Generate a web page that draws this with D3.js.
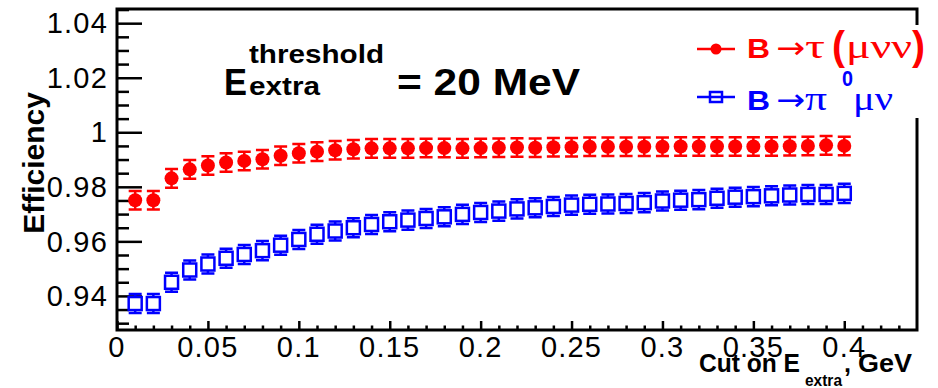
<!DOCTYPE html>
<html>
<head>
<meta charset="utf-8">
<script src="https://cdn.jsdelivr.net/npm/d3@7"></script>
<style>
  html, body { margin: 0; padding: 0; background: #fff; }
  svg { display: block; font-family: "Liberation Sans", Arial, sans-serif; }
</style>
</head>
<body>
<div id="vis"></div>
<script>
// cut on E_extra (GeV)
const cuts = [0.01, 0.02, 0.03, 0.04, 0.05, 0.06, 0.07, 0.08, 0.09, 0.10,
  0.11, 0.12, 0.13, 0.14, 0.15, 0.16, 0.17, 0.18, 0.19, 0.20,
  0.21, 0.22, 0.23, 0.24, 0.25, 0.26, 0.27, 0.28, 0.29, 0.30,
  0.31, 0.32, 0.33, 0.34, 0.35, 0.36, 0.37, 0.38, 0.39, 0.40];

// B -> tau(mu nu nu)
const effTau = [0.9751, 0.9751, 0.9831, 0.9864, 0.9878, 0.9889, 0.9895, 0.9901, 0.9914, 0.9923,
  0.9929, 0.9934, 0.9938, 0.9941, 0.9941, 0.9941, 0.9942, 0.9942, 0.9941, 0.9942,
  0.9943, 0.9944, 0.9943, 0.9945, 0.9945, 0.9947, 0.9947, 0.9947, 0.9947, 0.9947,
  0.9948, 0.9948, 0.9948, 0.9948, 0.9948, 0.9948, 0.9949, 0.9950, 0.9952, 0.9950];
const errTau = [0.0034, 0.0034, 0.0034, 0.0034, 0.0034, 0.0034, 0.0034, 0.0034, 0.0034, 0.0034,
  0.0034, 0.0034, 0.0034, 0.0034, 0.0034, 0.0034, 0.0034, 0.0034, 0.0034, 0.0034,
  0.0034, 0.0034, 0.0034, 0.0034, 0.0034, 0.0034, 0.0034, 0.0034, 0.0034, 0.0034,
  0.0034, 0.0034, 0.0034, 0.0034, 0.0034, 0.0034, 0.0034, 0.0034, 0.0034, 0.0034];

// B -> pi0 mu nu
const effPi = [0.9372, 0.9372, 0.9450, 0.9495, 0.9517, 0.9538, 0.9552, 0.9566, 0.9586, 0.9607,
  0.9626, 0.9638, 0.9650, 0.9662, 0.9672, 0.9678, 0.9684, 0.9690, 0.9699, 0.9706,
  0.9711, 0.9719, 0.9723, 0.9728, 0.9733, 0.9736, 0.9737, 0.9739, 0.9742, 0.9748,
  0.9751, 0.9753, 0.9758, 0.9762, 0.9764, 0.9767, 0.9770, 0.9772, 0.9772, 0.9776];
const errPi = [0.0035, 0.0035, 0.0035, 0.0035, 0.0035, 0.0035, 0.0035, 0.0035, 0.0035, 0.0035,
  0.0035, 0.0035, 0.0035, 0.0035, 0.0035, 0.0035, 0.0035, 0.0035, 0.0035, 0.0035,
  0.0035, 0.0035, 0.0035, 0.0035, 0.0035, 0.0035, 0.0035, 0.0035, 0.0035, 0.0035,
  0.0035, 0.0035, 0.0035, 0.0035, 0.0035, 0.0035, 0.0035, 0.0035, 0.0035, 0.0035];

const xTicks = [0, 0.05, 0.1, 0.15, 0.2, 0.25, 0.3, 0.35, 0.4];
const yTicks = [0.94, 0.96, 0.98, 1.0, 1.02, 1.04];

const width = 938;
const height = 388;
const frame = { left: 117, right: 917, top: 9, bottom: 330 };
const red = '#ff0000';
const blue = '#0000ff';
const serif = '"Liberation Serif", "DejaVu Serif", serif';
const arrowFont = '"DejaVu Sans", sans-serif';

const svg = d3.select('#vis')
  .append('svg')
  .attr('width', width)
  .attr('height', height)
  .attr('viewBox', [0, 0, width, height]);

const x = d3.scaleLinear()
  .domain([0, 0.44])
  .range([frame.left, frame.right]);

const y = d3.scaleLinear()
  .domain([0.9275, 1.0452])
  .range([frame.bottom, frame.top]);

// one piece of text fitted to a given width (ROOT fonts run wide)
function piece(parent, str, px, py, size, w, opts = {}) {
  const t = parent.append('text')
    .attr('x', px)
    .attr('y', py)
    .attr('font-size', size)
    .attr('font-weight', opts.bold ? 'bold' : null)
    .attr('font-family', opts.family || null)
    .attr('fill', opts.fill || '#000')
    .text(str);
  if (w) t.attr('textLength', w).attr('lengthAdjust', 'spacingAndGlyphs');
  return t;
}

// y axis, ticks pointing into the frame
const yMinor = d3.range(0.93, 1.0452, 0.005).filter((v) => !yTicks.some((t) => Math.abs(t - v) < 1e-6));
svg.append('g')
  .attr('transform', `translate(${frame.left},0)`)
  .call(d3.axisRight(y).tickValues(yMinor).tickSize(12).tickFormat(''))
  .call((g) => g.select('.domain').remove())
  .call((g) => g.selectAll('.tick line').attr('stroke-width', 2.5));

svg.append('g')
  .attr('transform', `translate(${frame.left},0)`)
  .call(d3.axisRight(y).tickValues(yTicks).tickSize(25).tickFormat(''))
  .call((g) => g.select('.domain').remove())
  .call((g) => g.selectAll('.tick line').attr('stroke-width', 2.5));

svg.append('g')
  .selectAll('text')
  .data(yTicks)
  .join('text')
  .attr('x', frame.left - 9)
  .attr('y', (d) => y(d))
  .attr('dy', '0.35em')
  .attr('text-anchor', 'end')
  .attr('font-size', 29)
  .attr('letter-spacing', 1.2)
  .text((d) => +d.toFixed(2));

// x axis
const xMinor = d3.range(0.01, 0.44, 0.01).filter((v) => !xTicks.some((t) => Math.abs(t - v) < 1e-6));
svg.append('g')
  .attr('transform', `translate(0,${frame.bottom})`)
  .call(d3.axisTop(x).tickValues(xMinor).tickSize(4.5).tickFormat(''))
  .call((g) => g.select('.domain').remove())
  .call((g) => g.selectAll('.tick line').attr('stroke-width', 2.5));

svg.append('g')
  .attr('transform', `translate(0,${frame.bottom})`)
  .call(d3.axisTop(x).tickValues(xTicks).tickSize(9).tickFormat(''))
  .call((g) => g.select('.domain').remove())
  .call((g) => g.selectAll('.tick line').attr('stroke-width', 2.5));

svg.append('g')
  .selectAll('text')
  .data(xTicks)
  .join('text')
  .attr('x', (d) => x(d))
  .attr('y', 357)
  .attr('text-anchor', 'middle')
  .attr('font-size', 29)
  .attr('letter-spacing', 1.2)
  .text((d) => +d.toFixed(2));

// frame
svg.append('rect')
  .attr('x', frame.left)
  .attr('y', frame.top)
  .attr('width', frame.right - frame.left)
  .attr('height', frame.bottom - frame.top)
  .attr('fill', 'none')
  .attr('stroke', '#000')
  .attr('stroke-width', 3);

// error bars + markers
const capW = 13;

const tauG = svg.append('g').attr('stroke', red).attr('fill', red);
tauG.selectAll('path')
  .data(cuts)
  .join('path')
  .attr('stroke-width', 2.5)
  .attr('fill', 'none')
  .attr('d', (d, i) => {
    const px = x(d);
    const y0 = y(effTau[i] - errTau[i]);
    const y1 = y(effTau[i] + errTau[i]);
    return `M${px},${y0}V${y1}M${px - capW / 2},${y0}h${capW}M${px - capW / 2},${y1}h${capW}`;
  });
tauG.selectAll('circle')
  .data(cuts)
  .join('circle')
  .attr('stroke', 'none')
  .attr('cx', (d) => x(d))
  .attr('cy', (d, i) => y(effTau[i]))
  .attr('r', 7);

const sq = 13;
const piG = svg.append('g').attr('stroke', blue).attr('fill', 'none').attr('stroke-width', 2.5);
piG.selectAll('path')
  .data(cuts)
  .join('path')
  .attr('d', (d, i) => {
    const px = x(d);
    const py = y(effPi[i]);
    const y0 = y(effPi[i] - errPi[i]);
    const y1 = y(effPi[i] + errPi[i]);
    return `M${px},${y0}V${py + sq / 2}M${px},${py - sq / 2}V${y1}` +
      `M${px - capW / 2},${y0}h${capW}M${px - capW / 2},${y1}h${capW}`;
  });
piG.selectAll('rect')
  .data(cuts)
  .join('rect')
  .attr('x', (d) => x(d) - sq / 2)
  .attr('y', (d, i) => y(effPi[i]) - sq / 2)
  .attr('width', sq)
  .attr('height', sq);

// legend (white box covers the right frame edge)
svg.append('rect')
  .attr('x', 690)
  .attr('y', 25)
  .attr('width', 248)
  .attr('height', 93)
  .attr('fill', '#fff');

const leg = svg.append('g');
leg.append('line').attr('x1', 697).attr('x2', 735).attr('y1', 49).attr('y2', 49)
  .attr('stroke', red).attr('stroke-width', 2.5);
leg.append('circle').attr('cx', 716).attr('cy', 49).attr('r', 5.5).attr('fill', red);
leg.append('line').attr('x1', 697).attr('x2', 735).attr('y1', 97).attr('y2', 97)
  .attr('stroke', blue).attr('stroke-width', 2.5);
leg.append('rect').attr('x', 710).attr('y', 92).attr('width', 12).attr('height', 10)
  .attr('fill', 'none').attr('stroke', blue).attr('stroke-width', 2.5);

piece(leg, 'B', 747, 58, 27, 23, { bold: true, fill: red });
piece(leg, '\u2192', 776, 58, 30, 29, { family: arrowFont, fill: red });
piece(leg, '\u03C4', 805, 58, 34, 20, { family: serif, fill: red });
piece(leg, '(', 832, 60, 40, 13, { bold: true, fill: red });
piece(leg, '\u03BC\u03BD\u03BD', 846, 58, 34, 66, { family: serif, fill: red });
piece(leg, ')', 912, 60, 40, 13, { bold: true, fill: red });

piece(leg, 'B', 747, 110, 27, 23, { bold: true, fill: blue });
piece(leg, '\u2192', 776, 110, 30, 29, { family: arrowFont, fill: blue });
piece(leg, '\u03C0', 805, 110, 34, 22, { family: serif, fill: blue });
piece(leg, '0', 842, 86, 22, 11, { bold: true, fill: blue });
piece(leg, '\u03BC\u03BD', 853, 110, 34, 40, { family: serif, fill: blue });

// threshold label
piece(svg, 'E', 224, 95, 36, 23, { bold: true });
piece(svg, 'threshold', 249, 63, 25, 135, { bold: true });
piece(svg, 'extra', 249, 95, 25, 71, { bold: true });
piece(svg, '= 20 MeV', 397, 95, 36, 183, { bold: true });

// axis titles
svg.append('text')
  .attr('transform', 'translate(44,92) rotate(-90)')
  .attr('text-anchor', 'end')
  .attr('font-weight', 'bold')
  .attr('font-size', 30)
  .text('Efficiency');

piece(svg, 'Cut on E', 699, 372, 25, 101, { bold: true });
piece(svg, 'extra', 805, 386, 17, 37, { bold: true });
piece(svg, ',', 844, 372, 25, 7, { bold: true });
piece(svg, 'GeV', 858, 372, 25, 54, { bold: true });
</script>
</body>
</html>
